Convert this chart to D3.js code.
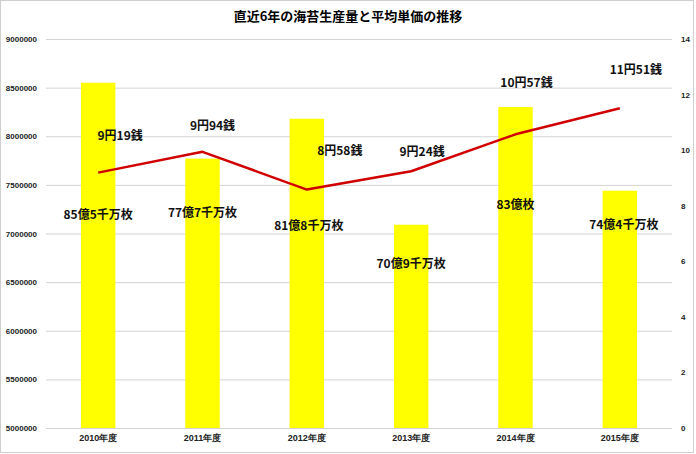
<!DOCTYPE html>
<html>
<head>
<meta charset="utf-8">
<script src="https://cdn.jsdelivr.net/npm/d3@7"></script>
<style>
  body { margin: 0; background: #fff; }
  svg { display: block; font-family: "Noto Sans CJK JP", "Noto Sans", sans-serif; }
  .grid line { stroke: #d3d3d3; stroke-width: 1; }
  .grid .domain { display: none; }
  .axis text { font-size: 8px; font-weight: bold; fill: #222; }
  .axis .domain, .axis line { display: none; }
  .x-axis text { font-size: 9px; }
  .label { font-size: 12px; font-weight: bold; fill: #111; text-anchor: middle; dominant-baseline: middle; }
</style>
</head>
<body>
<div id="chart"></div>
<script>
// data
const years = ['2010年度', '2011年度', '2012年度', '2013年度', '2014年度', '2015年度'];
const production = [8550000, 7770000, 8180000, 7090000, 8300000, 7440000];
const productionLabels = ['85億5千万枚', '77億7千万枚', '81億8千万枚', '70億9千万枚', '83億枚', '74億4千万枚'];
const unitPrice = [9.19, 9.94, 8.58, 9.24, 10.57, 11.51];
const priceLabels = ['9円19銭', '9円94銭', '8円58銭', '9円24銭', '10円57銭', '11円51銭'];
const leftTicks = [5000000, 5500000, 6000000, 6500000, 7000000, 7500000, 8000000, 8500000, 9000000];
const rightTicks = [0, 2, 4, 6, 8, 10, 12, 14];

// label nudges (hand placed in the original)
const barLabelOffset = [[0, 133], [0, 55], [2, 108], [0, 40], [0, 99], [4, 35]];
const lineLabelOffset = [[22, -36], [10, -25], [33, -38], [11, -19], [11, -51], [16, -37]];

const width = 696, height = 454;
const margin = { top: 39, right: 24, bottom: 26, left: 46 };
const w = width - margin.left - margin.right;
const h = height - margin.top - margin.bottom;

const svg = d3.select('#chart').append('svg')
  .attr('width', width)
  .attr('height', height);

svg.append('rect')
  .attr('x', 0.5).attr('y', 0.5)
  .attr('width', width - 3).attr('height', height - 2)
  .attr('fill', '#fff').attr('stroke', '#cfcfcf');

svg.append('text')
  .attr('x', width / 2).attr('y', 17)
  .attr('text-anchor', 'middle')
  .attr('dominant-baseline', 'middle')
  .style('font-size', '13px').style('font-weight', 'bold')
  .text('直近6年の海苔生産量と平均単価の推移');

const g = svg.append('g').attr('transform', `translate(${margin.left},${margin.top})`);

const x = d3.scaleBand().domain(years).range([0, w]).paddingInner(0.67).paddingOuter(0.335);
const xc = d3.scaleBand().domain(years).range([0, w]);
const y = d3.scaleLinear().domain([5000000, 9000000]).range([h, 0]);
const y2 = d3.scaleLinear().domain([0, 14]).range([h, 0]);

g.append('g').attr('class', 'grid')
  .call(d3.axisLeft(y).tickValues(leftTicks).tickSize(-w).tickFormat(''));

g.selectAll('.bar')
  .data(production)
  .join('rect')
  .attr('class', 'bar')
  .attr('x', (d, i) => x(years[i]))
  .attr('y', d => y(d))
  .attr('width', x.bandwidth())
  .attr('height', d => h - y(d))
  .attr('fill', '#ffff00');

const line = d3.line()
  .x((d, i) => xc(years[i]) + xc.bandwidth() / 2)
  .y(d => y2(d));

g.append('path')
  .datum(unitPrice)
  .attr('d', line)
  .attr('fill', 'none')
  .attr('stroke', '#d00000')
  .attr('stroke-width', 2.5)
  .attr('stroke-linejoin', 'round');

g.selectAll('.bar-label')
  .data(productionLabels)
  .join('text')
  .attr('class', 'label bar-label')
  .attr('x', (d, i) => xc(years[i]) + xc.bandwidth() / 2 + barLabelOffset[i][0])
  .attr('y', (d, i) => y(production[i]) + barLabelOffset[i][1])
  .text(d => d);

g.selectAll('.line-label')
  .data(priceLabels)
  .join('text')
  .attr('class', 'label line-label')
  .attr('x', (d, i) => xc(years[i]) + xc.bandwidth() / 2 + lineLabelOffset[i][0])
  .attr('y', (d, i) => y2(unitPrice[i]) + lineLabelOffset[i][1])
  .text(d => d);

g.append('g').attr('class', 'axis y-axis')
  .call(d3.axisLeft(y).tickValues(leftTicks).tickSize(0).tickPadding(9).tickFormat(d3.format('d')));

g.append('g').attr('class', 'axis y2-axis')
  .attr('transform', `translate(${w},0)`)
  .call(d3.axisRight(y2).tickValues(rightTicks).tickSize(0).tickPadding(9));

g.append('g').attr('class', 'axis x-axis')
  .attr('transform', `translate(0,${h})`)
  .call(d3.axisBottom(xc).tickSize(0).tickPadding(7));
</script>
</body>
</html>
